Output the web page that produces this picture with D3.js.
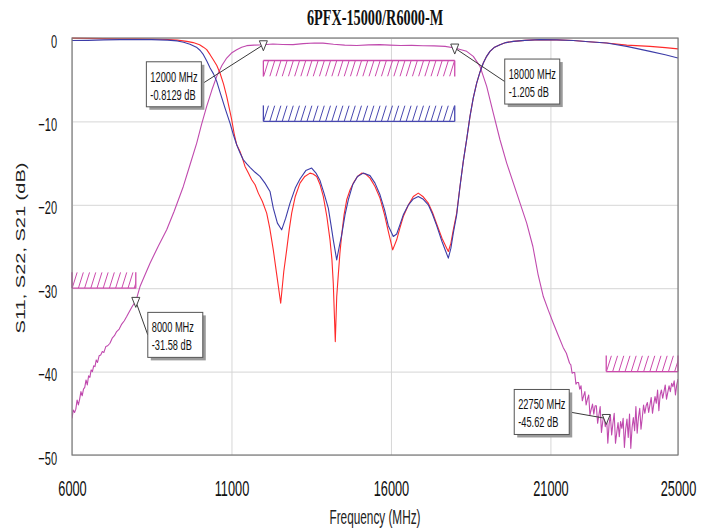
<!DOCTYPE html>
<html>
<head>
<meta charset="utf-8">
<script src="https://cdn.jsdelivr.net/npm/d3@7"></script>
<style>
body { margin:0; background:#fff; }
</style>
</head>
<body>
<div id="chart"></div>
<script>
const chartTitle = "6PFX-15000/R6000-M";
const xLabel = "Frequency (MHz)";
const yLabel = "S11, S22, S21 (dB)";
const xTicks = [6000, 11000, 16000, 21000, 25000];
const yTicks = [0, -10, -20, -30, -40, -50];

// S11 (red) [MHz, dB]
const s11 = [[6000,-0.02],[6500,-0.05],[7000,-0.08],[7500,-0.1],[8000,-0.1],[8500,-0.12],[9000,-0.18],[9300,-0.25],[9600,-0.4],[9800,-0.55],[10000,-0.8],[10120,-1.1],[10223,-1.4],[10330,-2.0],[10430,-2.6],[10540,-3.3],[10640,-4.2],[10750,-5.5],[10850,-7.0],[10930,-8.4],[11007,-9.8],[11090,-11.6],[11164,-12.8],[11267,-13.6],[11350,-14.5],[11424,-15.4],[11530,-16.2],[11634,-17.0],[11740,-17.6],[11841,-18.6],[11970,-19.6],[12104,-21.0],[12200,-22.8],[12311,-25.4],[12420,-28.4],[12543,-31.8],[12640,-28.0],[12731,-25.4],[12810,-23.0],[12888,-21.0],[13000,-19.0],[13148,-17.4],[13300,-16.6],[13462,-16.2],[13560,-16.3],[13672,-16.6],[13780,-17.6],[13879,-19.0],[13990,-21.4],[14089,-24.2],[14150,-26.6],[14192,-29.4],[14255,-36.4],[14300,-31.0],[14349,-28.4],[14400,-25.8],[14456,-23.6],[14530,-21.2],[14613,-19.4],[14720,-18.2],[14820,-17.4],[14950,-16.6],[15083,-16.2],[15200,-16.3],[15343,-16.8],[15500,-17.8],[15657,-19.2],[15800,-21.2],[15917,-23.2],[16055,-25.4],[16180,-24.2],[16280,-22.8],[16387,-21.4],[16550,-20.0],[16701,-19.0],[16857,-18.6],[17000,-19.0],[17171,-19.8],[17300,-20.9],[17434,-22.3],[17600,-24.0],[17748,-25.2],[17800,-25.6],[17880,-24.6],[17955,-23.0],[18061,-21.0],[18165,-17.8],[18268,-14.8],[18380,-12.0],[18478,-9.4],[18580,-7.2],[18688,-5.4],[18790,-4.1],[18896,-3.0],[19000,-2.2],[19105,-1.6],[19250,-1.1],[19419,-0.8],[19600,-0.55],[19836,-0.4],[20200,-0.28],[20673,-0.2],[21200,-0.22],[21717,-0.3],[22200,-0.45],[22764,-0.6],[23391,-0.85],[24122,-1.0],[24600,-1.15],[25000,-1.3]];

// S22 (blue)
const s22 = [[6000,-0.3],[6500,-0.28],[7000,-0.22],[7500,-0.2],[8000,-0.2],[8500,-0.2],[9000,-0.25],[9300,-0.35],[9500,-0.5],[9700,-0.75],[9900,-1.1],[10020,-1.5],[10120,-2.0],[10230,-2.8],[10330,-3.6],[10437,-4.3],[10537,-5.2],[10650,-6.6],[10798,-8.4],[10954,-10.2],[11060,-11.6],[11164,-12.8],[11270,-13.8],[11371,-14.6],[11480,-15.1],[11581,-15.5],[11740,-16.1],[11894,-16.6],[12050,-17.4],[12208,-18.4],[12311,-20.4],[12440,-22.2],[12574,-23.0],[12700,-21.6],[12835,-19.8],[13000,-18.0],[13148,-16.9],[13330,-15.9],[13515,-15.6],[13650,-16.2],[13776,-17.1],[13900,-18.6],[14036,-20.4],[14120,-22.4],[14192,-24.2],[14299,-26.6],[14380,-25.0],[14456,-23.6],[14560,-21.2],[14663,-19.4],[14800,-17.6],[14950,-16.6],[15133,-16.2],[15343,-16.5],[15500,-17.4],[15657,-18.8],[15800,-20.6],[15917,-22.5],[16074,-23.8],[16180,-23.5],[16280,-22.4],[16387,-21.2],[16550,-20.0],[16701,-19.3],[16857,-19.0],[17000,-19.3],[17171,-20.0],[17300,-21.1],[17434,-22.5],[17600,-24.4],[17799,-26.4],[17880,-25.2],[17955,-23.4],[18061,-21.2],[18165,-17.8],[18268,-14.8],[18380,-12.0],[18478,-9.4],[18580,-7.2],[18688,-5.4],[18790,-4.1],[18896,-3.0],[19000,-2.2],[19105,-1.6],[19250,-1.1],[19419,-0.8],[19600,-0.55],[19836,-0.4],[20200,-0.28],[20673,-0.2],[21200,-0.22],[21717,-0.3],[22200,-0.45],[22764,-0.6],[23391,-1.0],[24122,-1.6],[24600,-2.0],[25000,-2.4]];

// S21 (magenta)
const s21 = [[6000,-45.6],[6040,-44.6],[6080,-44.9],[6120,-44.5],[6160,-43.4],[6200,-44.0],[6240,-43.3],[6280,-42.4],[6320,-42.9],[6360,-42.1],[6400,-41.9],[6440,-41.0],[6480,-41.6],[6520,-40.5],[6560,-40.7],[6600,-39.8],[6640,-40.0],[6680,-39.3],[6720,-39.4],[6760,-38.6],[6800,-38.9],[6850,-38.1],[6900,-38.0],[6950,-37.6],[7000,-37.7],[7060,-37.0],[7120,-36.9],[7190,-36.6],[7260,-36.0],[7330,-35.7],[7400,-35.2],[7480,-34.9],[7560,-34.3],[7640,-33.9],[7715,-33.4],[7800,-32.8],[7900,-32.1],[8000,-31.58],[8132,-29.8],[8300,-28.3],[8446,-27.0],[8700,-25.0],[8969,-23.0],[9200,-20.8],[9490,-17.8],[9700,-15.2],[9910,-12.6],[10060,-10.4],[10223,-8.2],[10380,-6.3],[10537,-4.6],[10700,-3.3],[10850,-2.4],[11000,-1.8],[11164,-1.4],[11320,-1.1],[11478,-0.92],[11700,-0.85],[12000,-0.81],[12300,-0.72],[12600,-0.78],[12930,-0.8],[13250,-0.68],[13600,-0.6],[13870,-0.62],[14200,-0.75],[14550,-0.85],[14926,-0.9],[15300,-0.82],[15650,-0.8],[15970,-0.85],[16300,-0.9],[16650,-0.88],[17005,-0.93],[17350,-0.95],[17700,-1.0],[18000,-1.205],[18200,-1.4],[18375,-1.6],[18582,-2.2],[18792,-3.4],[19002,-5.8],[19209,-9.0],[19419,-12.2],[19629,-15.0],[19943,-18.6],[20256,-22.2],[20450,-25.0],[20610,-28.3],[20777,-31.0],[20930,-32.6],[21091,-34.2],[21250,-35.7],[21400,-37.1],[21500,-37.8],[21600,-39.0],[21640,-39.2],[21680,-40.2],[21720,-40.1],[21760,-40.1],[21800,-41.5],[21840,-41.3],[21880,-41.3],[21920,-42.1],[21960,-41.7],[22000,-43.5],[22040,-42.9],[22080,-42.4],[22120,-44.0],[22160,-43.3],[22200,-42.8],[22240,-45.2],[22280,-44.5],[22320,-43.9],[22360,-45.1],[22400,-44.1],[22440,-44.1],[22480,-46.2],[22520,-45.2],[22560,-44.2],[22600,-47.3],[22640,-46.0],[22680,-45.2],[22720,-46.6],[22760,-45.4],[22800,-48.6],[22840,-46.3],[22880,-45.2],[22920,-47.6],[22960,-46.2],[23000,-45.0],[23040,-48.6],[23080,-47.3],[23120,-46.1],[23160,-47.8],[23200,-46.0],[23240,-46.8],[23280,-45.6],[23320,-49.1],[23360,-46.9],[23400,-45.7],[23440,-47.9],[23480,-45.1],[23520,-49.2],[23560,-46.7],[23600,-45.5],[23640,-47.1],[23680,-44.2],[23720,-47.4],[23760,-45.5],[23800,-44.4],[23840,-46.9],[23880,-45.5],[23920,-44.0],[23960,-45.0],[24000,-44.1],[24040,-43.7],[24080,-44.9],[24120,-44.0],[24160,-43.1],[24200,-45.0],[24240,-43.9],[24280,-43.0],[24320,-43.8],[24360,-42.2],[24400,-44.7],[24440,-42.8],[24480,-42.2],[24520,-43.2],[24560,-42.4],[24600,-41.6],[24640,-43.3],[24680,-42.5],[24720,-41.7],[24760,-42.4],[24800,-41.4],[24840,-41.8],[24880,-41.1],[24920,-42.8],[24960,-41.6],[25000,-40.9]];

// spec masks: limit line and which side is hatched
const maskFrom  = [6000, 12000, 12000, 22750];
const maskTo    = [8000, 18000, 18000, 25000];
const maskLimit = [-30, -2.7, -10, -40];
const maskSide  = ["above", "below", "above", "above"];
const maskTrace = ["s21", "s21", "s11", "s21"];

// marker readouts
const markerFreq = [12000, 18000, 8000, 22750];
const markerDb   = [-0.8129, -1.205, -31.58, -45.62];

const W = 711, H = 529;
const pL = 72, pR = 678, pT = 38, pB = 455;
const TSX = 0.58; // text is drawn horizontally condensed

const colors = {s11: "#ff2a2a", s22: "#3c3ca8", s21: "#c04aae"};
const maskColors = {s21: "#cc4aac", s11: "#4848b0"};

const svg = d3.select("#chart").append("svg")
  .attr("width", W).attr("height", H)
  .style("background", "#fff");

const x = d3.scaleLinear().domain([6000, 25000]).range([pL, pR]);
const y = d3.scaleLinear().domain([-50, 0]).range([pB, pT]);

// grid
svg.append("g")
  .attr("transform", `translate(0,${pB})`)
  .call(d3.axisBottom(x).tickValues(xTicks).tickSize(-(pB - pT)).tickFormat(""))
  .call(g => g.select(".domain").remove())
  .call(g => g.selectAll("line").attr("stroke", "#d6d6d6"));
svg.append("g")
  .attr("transform", `translate(${pL},0)`)
  .call(d3.axisLeft(y).tickValues(yTicks).tickSize(-(pR - pL)).tickFormat(""))
  .call(g => g.select(".domain").remove())
  .call(g => g.selectAll("line").attr("stroke", "#d6d6d6"));

// axis labels
svg.append("g")
  .attr("transform", `translate(0,${pB})`)
  .call(d3.axisBottom(x).tickValues(xTicks).tickSize(0).tickFormat(d3.format("d")))
  .call(g => g.select(".domain").remove())
  .call(g => g.selectAll("text")
    .attr("y", 41).attr("dy", 0)
    .attr("transform", `scale(${TSX},1)`)
    .attr("fill", "#111")
    .style("font-family", "Liberation Sans, Arial, sans-serif")
    .style("font-size", "22px"));

svg.append("g")
  .attr("transform", `translate(${pL},0)`)
  .call(d3.axisLeft(y).tickValues(yTicks).tickSize(0).tickFormat(d3.format("d")))
  .call(g => g.select(".domain").remove())
  .call(g => g.selectAll("text")
    .attr("x", -15 / TSX).attr("dy", 9)
    .attr("transform", `scale(${TSX},1)`)
    .attr("fill", "#111")
    .style("font-family", "Liberation Sans, Arial, sans-serif")
    .style("font-size", "19px"));

// masks
const defs = svg.append("defs");
maskFrom.forEach((f, i) => {
  const x0 = x(f), x1 = x(maskTo[i]);
  const yl = y(maskLimit[i]);
  const depth = 16;
  const yA = maskSide[i] === "above" ? yl - depth : yl;
  const yB = maskSide[i] === "above" ? yl : yl + depth;
  const col = maskColors[maskTrace[i]];
  defs.append("clipPath").attr("id", "mclip" + i)
    .append("rect").attr("x", x0).attr("y", yA).attr("width", x1 - x0).attr("height", yB - yA);
  const g = svg.append("g");
  const hatch = g.append("g").attr("clip-path", `url(#mclip${i})`);
  d3.range(x0 - 6, x1 + 6, 6.2).forEach(hx => {
    hatch.append("line")
      .attr("x1", hx).attr("y1", yB).attr("x2", hx + 5).attr("y2", yA)
      .attr("stroke", col).attr("stroke-width", 1);
  });
  g.append("line").attr("x1", x0).attr("x2", x1).attr("y1", yl).attr("y2", yl)
    .attr("stroke", col).attr("stroke-width", 1.3);
  [x0, x1].forEach(vx => g.append("line")
    .attr("x1", vx).attr("x2", vx).attr("y1", yA).attr("y2", yB)
    .attr("stroke", col).attr("stroke-width", 1.3));
});

// traces
defs.append("clipPath").attr("id", "plotclip")
  .append("rect").attr("x", pL).attr("y", pT - 2).attr("width", pR - pL).attr("height", pB - pT + 2);
const line = d3.line().x(d => x(d[0])).y(d => y(d[1]));
const traces = svg.append("g").attr("clip-path", "url(#plotclip)");
[["s21", s21], ["s11", s11], ["s22", s22]].forEach(([k, data]) => {
  traces.append("path")
    .datum(data)
    .attr("fill", "none")
    .attr("stroke", colors[k])
    .attr("stroke-width", 1.1)
    .attr("stroke-linejoin", "round")
    .attr("d", line);
});

// frame
svg.append("rect")
  .attr("x", pL).attr("y", pT).attr("width", pR - pL).attr("height", pB - pT)
  .attr("fill", "none").attr("stroke", "#7a7a7a").attr("stroke-width", 1.2);

// markers and callouts (box offsets from the marker point are layout only)
const boxOffset = [[-117, 17], [50, 11], [12, 11], [-92, -29]];
markerFreq.forEach((f, i) => {
  const px = x(f), py = y(markerDb[i]);
  const bx = px + boxOffset[i][0], by = py + boxOffset[i][1];
  const bw = 55, bh = 45;
  // leader line from box edge to marker
  const lx = boxOffset[i][0] < 0 ? bx + bw : bx;
  svg.append("line")
    .attr("x1", lx).attr("y1", by + bh / 2)
    .attr("x2", px).attr("y2", py)
    .attr("stroke", "#3a3a3a").attr("stroke-width", 1);
  svg.append("rect").attr("x", bx + 3).attr("y", by + 3).attr("width", bw).attr("height", bh)
    .attr("fill", "#9a9a9a");
  svg.append("rect").attr("x", bx).attr("y", by).attr("width", bw).attr("height", bh)
    .attr("fill", "#fff").attr("stroke", "#555").attr("stroke-width", 1);
  [`${f} MHz`, `${markerDb[i]} dB`].forEach((t, j) => {
    svg.append("text")
      .attr("transform", `translate(${bx + 4},${by + 20 + j * 18}) scale(0.66,1)`)
      .attr("fill", "#111")
      .style("font-family", "Liberation Sans, Arial, sans-serif")
      .style("font-size", "14px")
      .text(t);
  });
  svg.append("path")
    .attr("d", `M${px - 4},${py - 4} L${px + 4},${py - 4} L${px},${py + 6} Z`)
    .attr("fill", "#fff").attr("stroke", "#444").attr("stroke-width", 1);
});

// titles
svg.append("text")
  .attr("transform", `translate(375,25) scale(0.62,1)`)
  .attr("text-anchor", "middle")
  .attr("fill", "#111")
  .style("font-family", "Liberation Serif, Times New Roman, serif")
  .style("font-weight", "bold")
  .style("font-size", "23px")
  .text(chartTitle);

svg.append("text")
  .attr("transform", `translate(375,524) scale(0.59,1)`)
  .attr("text-anchor", "middle")
  .attr("fill", "#222")
  .style("font-family", "Liberation Sans, Arial, sans-serif")
  .style("font-size", "20px")
  .text(xLabel);

svg.append("text")
  .attr("transform", `translate(25,248) scale(0.6,1) rotate(-90)`)
  .attr("text-anchor", "middle")
  .attr("fill", "#222")
  .style("font-family", "Liberation Sans, Arial, sans-serif")
  .style("font-size", "20px")
  .text(yLabel);
</script>
</body>
</html>
